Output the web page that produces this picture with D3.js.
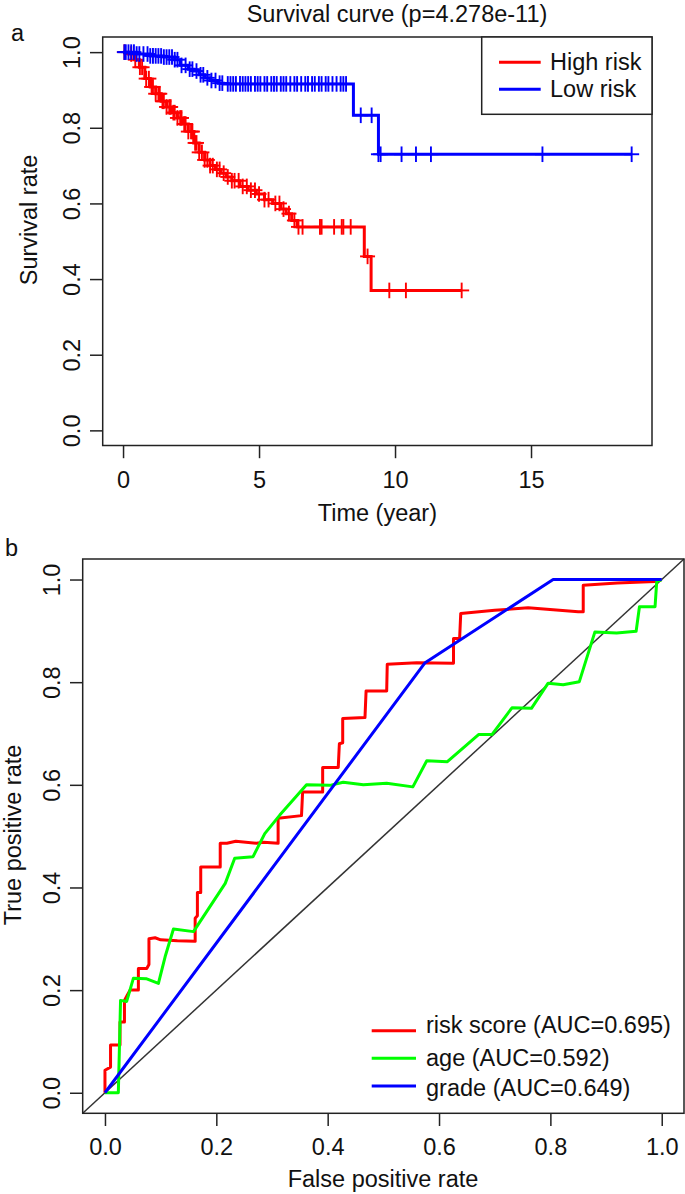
<!DOCTYPE html>
<html>
<head>
<meta charset="utf-8">
<script src="https://cdn.jsdelivr.net/npm/d3@7"></script>
<style>
  html, body { margin: 0; padding: 0; background: #fff; }
  svg text { font-family: "Liberation Sans", Arial, Helvetica, sans-serif; fill: #111; }
</style>
</head>
<body>
<svg id="chart" width="685" height="1194"></svg>
<script>
// ---------------- Panel a: Kaplan-Meier data ----------------
const kmTitle = "Survival curve (p=4.278e-11)";
const kmXLabel = "Time (year)";
const kmYLabel = "Survival rate";
const kmXTicks = [0, 5, 10, 15];
const kmYTicks = [0, 0.2, 0.4, 0.6, 0.8, 1.0];
const kmGroups = ["High risk", "Low risk"];

// High risk: event times and survival after each step
const highTime = [0, 0.2, 0.4, 0.6, 0.8, 1.0, 1.2, 1.4, 1.6, 1.8, 2.0, 2.2, 2.4, 2.6, 2.8, 3.0, 3.2, 3.4, 3.6, 3.8, 4.0, 4.3, 4.6, 4.9, 5.2, 5.5, 5.8, 6.0, 6.2, 6.4, 8.87, 9.12];
const highSurv = [1.0, 0.995, 0.98, 0.96, 0.93, 0.908, 0.89, 0.87, 0.855, 0.84, 0.826, 0.81, 0.79, 0.76, 0.735, 0.715, 0.70, 0.69, 0.68, 0.67, 0.66, 0.645, 0.635, 0.625, 0.61, 0.60, 0.585, 0.573, 0.555, 0.538, 0.46, 0.37];
const highCensor = [0.05, 0.3, 0.45, 0.62, 0.7, 0.85, 0.95, 1.05, 1.1, 1.2, 1.3, 1.35, 1.45, 1.5, 1.6, 1.7, 1.75, 1.85, 1.9, 2.0, 2.1, 2.15, 2.25, 2.3, 2.4, 2.5, 2.55, 2.65, 2.7, 2.8, 2.9, 3.0, 3.1, 3.2, 3.3, 3.45, 3.55, 3.7, 3.85, 4.0, 4.1, 4.25, 4.4, 4.55, 4.7, 4.85, 5.0, 5.2, 5.35, 5.6, 5.75, 5.9, 6.1, 6.3, 6.45, 6.6, 7.24, 7.3, 7.76, 8.04, 8.1, 8.37, 8.99, 9.79, 10.4, 12.45];

// Low risk
const lowTime = [0, 0.5, 1.0, 1.5, 1.9, 2.1, 2.4, 2.6, 2.8, 3.0, 3.2, 3.5, 3.7, 8.47, 9.39];
const lowSurv = [1.0, 0.995, 0.99, 0.987, 0.98, 0.965, 0.955, 0.95, 0.94, 0.932, 0.925, 0.918, 0.916, 0.833, 0.73];
const lowCensor = [0.05, 0.1, 0.2, 0.3, 0.4, 0.5, 0.6, 0.75, 0.9, 1.0, 1.1, 1.2, 1.3, 1.4, 1.5, 1.6, 1.7, 1.8, 1.9, 2.0, 2.15, 2.3, 2.45, 2.55, 2.7, 2.85, 2.95, 3.1, 3.25, 3.4, 3.55, 3.65, 3.85, 3.95, 4.05, 4.15, 4.3, 4.4, 4.5, 4.6, 4.7, 4.85, 4.95, 5.05, 5.2, 5.3, 5.45, 5.55, 5.65, 5.8, 5.9, 6.0, 6.15, 6.3, 6.4, 6.55, 6.7, 6.8, 6.95, 7.05, 7.2, 7.3, 7.45, 7.55, 7.7, 7.85, 8.0, 8.1, 8.2, 8.74, 9.14, 9.39, 9.47, 10.24, 10.77, 11.32, 15.42, 18.7];

// ---------------- Panel b: ROC data ----------------
const rocXLabel = "False positive rate";
const rocYLabel = "True positive rate";
const rocTicks = [0, 0.2, 0.4, 0.6, 0.8, 1.0];
const rocNames = ["risk score (AUC=0.695)", "age (AUC=0.592)", "grade (AUC=0.649)"];

const riskFpr = [0, 0, 0.01, 0.01, 0.027, 0.027, 0.035, 0.035, 0.04, 0.045, 0.06, 0.06, 0.075, 0.079, 0.079, 0.09, 0.1, 0.13, 0.162, 0.162, 0.166, 0.166, 0.172, 0.172, 0.207, 0.207, 0.219, 0.235, 0.272, 0.285, 0.311, 0.311, 0.353, 0.355, 0.391, 0.391, 0.419, 0.421, 0.427, 0.427, 0.467, 0.469, 0.506, 0.507, 0.56, 0.626, 0.626, 0.637, 0.639, 0.7, 0.76, 0.85, 0.859, 0.859, 0.92, 0.988, 1];
const riskTpr = [0, 0.044, 0.05, 0.093, 0.093, 0.138, 0.138, 0.18, 0.19, 0.2, 0.2, 0.242, 0.242, 0.25, 0.30, 0.302, 0.298, 0.296, 0.295, 0.34, 0.345, 0.39, 0.39, 0.44, 0.44, 0.486, 0.486, 0.49, 0.486, 0.488, 0.486, 0.535, 0.54, 0.586, 0.586, 0.634, 0.634, 0.68, 0.682, 0.729, 0.731, 0.783, 0.783, 0.835, 0.838, 0.837, 0.885, 0.885, 0.934, 0.94, 0.945, 0.937, 0.937, 0.989, 0.993, 0.996, 1];

const ageFpr = [0, 0.024, 0.028, 0.039, 0.051, 0.075, 0.096, 0.108, 0.123, 0.159, 0.216, 0.233, 0.266, 0.287, 0.314, 0.362, 0.404, 0.428, 0.464, 0.506, 0.553, 0.578, 0.615, 0.671, 0.695, 0.731, 0.766, 0.796, 0.823, 0.852, 0.88, 0.919, 0.954, 0.96, 0.988, 0.991, 1];
const ageTpr = [0, 0, 0.18, 0.178, 0.223, 0.222, 0.213, 0.265, 0.319, 0.314, 0.408, 0.457, 0.46, 0.505, 0.541, 0.6, 0.599, 0.605, 0.6, 0.603, 0.596, 0.647, 0.645, 0.698, 0.698, 0.75, 0.749, 0.798, 0.795, 0.801, 0.898, 0.896, 0.899, 0.947, 0.947, 0.996, 1];

const gradeFpr = [0, 0.575, 0.805, 1];
const gradeTpr = [0, 0.838, 1.0, 1];

// ---------------- drawing ----------------
const FONT = 23.5;
const AXC = "#222";
const svg = d3.select("#chart");

function styleAxis(g) {
  g.select(".domain").remove();
  g.selectAll(".tick line").attr("stroke", AXC).attr("stroke-width", 1.5);
  g.selectAll(".tick text").attr("font-size", FONT).attr("fill", "#111");
}

// ===== Panel a =====
const kmMax = d3.max(lowCensor.concat(highCensor));
const xKM = d3.scaleLinear().domain([-0.04 * kmMax, kmMax * 1.04]).range([102.7, 652]);
const yKM = d3.scaleLinear().domain([-0.04, 1.04]).range([445.5, 37]);

svg.append("text").attr("x", 397).attr("y", 22).attr("text-anchor", "middle")
  .attr("font-size", FONT).text(kmTitle);
svg.append("text").attr("x", 11).attr("y", 41).attr("font-size", FONT).text("a");

// x axis
const gxa = svg.append("g").attr("transform", `translate(0,${yKM.range()[0]})`)
  .call(d3.axisBottom(xKM).tickValues(kmXTicks).tickSize(12.7).tickFormat(d3.format("d")));
styleAxis(gxa);
gxa.selectAll(".tick text").attr("y", 42).attr("dy", 0);

// y axis
const gya = svg.append("g").attr("transform", `translate(${xKM.range()[0]},0)`)
  .call(d3.axisLeft(yKM).tickValues(kmYTicks).tickSize(12.7).tickFormat(d3.format(".1f")));
styleAxis(gya);
gya.selectAll(".tick text").attr("x", 0).attr("y", 0).attr("dy", 0)
  .attr("text-anchor", "middle").attr("transform", "translate(-22.7,0) rotate(-90)");

svg.append("text").attr("x", (xKM.range()[0] + xKM.range()[1]) / 2).attr("y", 521)
  .attr("text-anchor", "middle").attr("font-size", FONT).text(kmXLabel);
svg.append("text").attr("text-anchor", "middle").attr("font-size", FONT)
  .attr("transform", `translate(37.3,220) rotate(-90)`).text(kmYLabel);

// curves
function kmSeries(times, surv, censor, maxT, color) {
  const pts = times.map((t, i) => [t, surv[i]]);
  pts.push([maxT, surv[surv.length - 1]]);
  const line = d3.line().x(d => xKM(d[0])).y(d => yKM(d[1])).curve(d3.curveStepAfter);
  svg.append("path").attr("d", line(pts)).attr("fill", "none")
    .attr("stroke", color).attr("stroke-width", 3);
  const g = svg.append("g").attr("stroke", color).attr("stroke-width", 1.9);
  censor.forEach(c => {
    const idx = Math.max(0, d3.bisectRight(times, c) - 1);
    const cx = xKM(c), cy = yKM(surv[idx]);
    g.append("line").attr("x1", cx - 7.5).attr("x2", cx + 7.5).attr("y1", cy).attr("y2", cy);
    g.append("line").attr("x1", cx).attr("x2", cx).attr("y1", cy - 7.8).attr("y2", cy + 7.8);
  });
}
kmSeries(highTime, highSurv, highCensor, d3.max(highCensor), "#ff0000");
kmSeries(lowTime, lowSurv, lowCensor, d3.max(lowCensor), "#0000ff");

// box
svg.append("rect").attr("x", xKM.range()[0]).attr("y", yKM.range()[1])
  .attr("width", xKM.range()[1] - xKM.range()[0]).attr("height", yKM.range()[0] - yKM.range()[1])
  .attr("fill", "none").attr("stroke", AXC).attr("stroke-width", 1.5);

// legend a
const legA = svg.append("g");
legA.append("rect").attr("x", 481.7).attr("y", 37).attr("width", 652 - 481.7).attr("height", 114.3 - 37)
  .attr("fill", "#fff").attr("stroke", AXC).attr("stroke-width", 1.5);
const legAColors = ["#ff0000", "#0000ff"];
kmGroups.forEach((name, i) => {
  const y = 62.3 + i * 27;
  legA.append("line").attr("x1", 499).attr("x2", 540.7).attr("y1", y).attr("y2", y)
    .attr("stroke", legAColors[i]).attr("stroke-width", 3);
  legA.append("text").attr("x", 550).attr("y", y + 7.5).attr("font-size", FONT).text(name);
});

// ===== Panel b =====
const xR = d3.scaleLinear().domain([-0.04, 1.04]).range([82.7, 684]);
const yR = d3.scaleLinear().domain([-0.04, 1.04]).range([1113.3, 559]);

svg.append("text").attr("x", 5).attr("y", 556).attr("font-size", FONT).text("b");

const gxb = svg.append("g").attr("transform", `translate(0,${yR.range()[0]})`)
  .call(d3.axisBottom(xR).tickValues(rocTicks).tickSize(12.7).tickFormat(d3.format(".1f")));
styleAxis(gxb);
gxb.selectAll(".tick text").attr("y", 42).attr("dy", 0);

const gyb = svg.append("g").attr("transform", `translate(${xR.range()[0]},0)`)
  .call(d3.axisLeft(yR).tickValues(rocTicks).tickSize(12.7).tickFormat(d3.format(".1f")));
styleAxis(gyb);
gyb.selectAll(".tick text").attr("x", 0).attr("y", 0).attr("dy", 0)
  .attr("text-anchor", "middle").attr("transform", "translate(-22.7,0) rotate(-90)");

svg.append("text").attr("x", 383).attr("y", 1187).attr("text-anchor", "middle")
  .attr("font-size", FONT).text(rocXLabel);
svg.append("text").attr("text-anchor", "middle").attr("font-size", FONT)
  .attr("transform", `translate(21,835) rotate(-90)`).text(rocYLabel);

// diagonal reference line across the full plot region
svg.append("line").attr("x1", xR(-0.04)).attr("y1", yR(-0.04)).attr("x2", xR(1.04)).attr("y2", yR(1.04))
  .attr("stroke", "#333").attr("stroke-width", 1.5);

const rocLine = d3.line().x(d => xR(d[0])).y(d => yR(d[1]));
const rocSeries = [
  { f: riskFpr, t: riskTpr, color: "#ff0000" },
  { f: ageFpr, t: ageTpr, color: "#00ff00" },
  { f: gradeFpr, t: gradeTpr, color: "#0000ff" }
];
rocSeries.forEach(s => {
  svg.append("path").attr("d", rocLine(s.f.map((v, i) => [v, s.t[i]])))
    .attr("fill", "none").attr("stroke", s.color).attr("stroke-width", 3)
    .attr("stroke-linejoin", "round");
});

svg.append("rect").attr("x", xR.range()[0]).attr("y", yR.range()[1])
  .attr("width", xR.range()[1] - xR.range()[0]).attr("height", yR.range()[0] - yR.range()[1])
  .attr("fill", "none").attr("stroke", AXC).attr("stroke-width", 1.5);

// legend b (no box)
const legBLineY = [1030.7, 1058.3, 1086];
const legBTextY = [1033, 1066, 1096];
rocSeries.forEach((s, i) => {
  svg.append("line").attr("x1", 371.7).attr("x2", 416).attr("y1", legBLineY[i]).attr("y2", legBLineY[i])
    .attr("stroke", s.color).attr("stroke-width", 3);
  svg.append("text").attr("x", 426).attr("y", legBTextY[i]).attr("font-size", FONT).text(rocNames[i]);
});
</script>
</body>
</html>
